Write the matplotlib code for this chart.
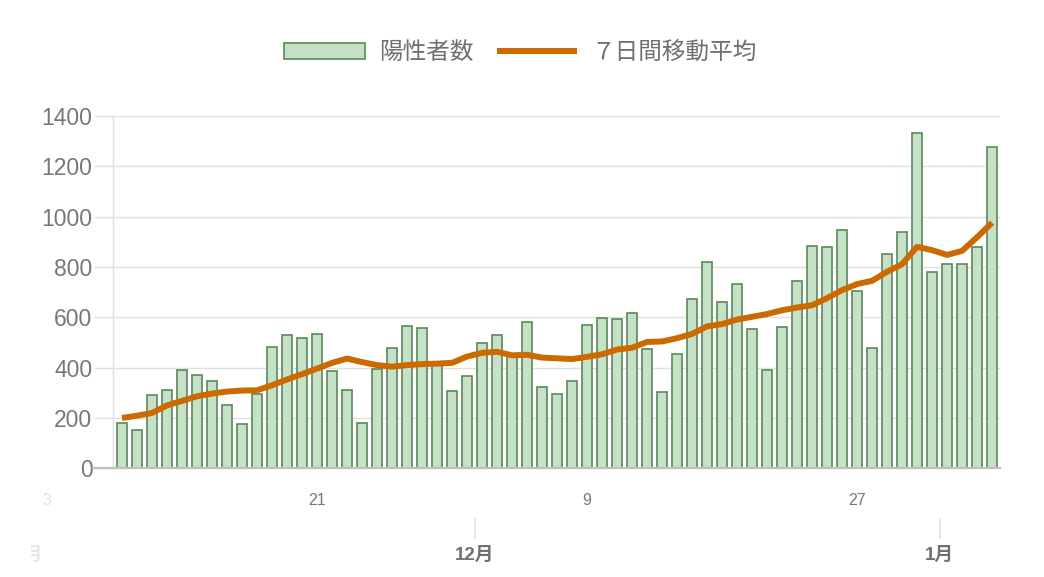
import matplotlib.pyplot as plt
from matplotlib.patches import Rectangle
import matplotlib.transforms as mtrans

plt.rcParams['font.family'] = ['Liberation Sans', 'Noto Sans CJK JP', 'DejaVu Sans']

# daily positives, 2020-11-08 .. 2021-01-05
cases = [182, 152, 290, 312, 389, 369, 348, 251, 176, 294,
         481, 528, 518, 535, 385, 311, 181, 396, 477, 566,
         556, 415, 307, 367, 497, 528, 452, 580, 323, 295,
         348, 570, 598, 592, 616, 476, 302, 454, 674, 818,
         661, 734, 552, 389, 560, 746, 885, 881, 947, 705,
         478, 853, 941, 1332, 780, 811, 813, 881, 1276]

avg7 = [200, 209, 220, 250, 268, 286, 297, 305, 309, 310,
        330, 353, 374, 396, 419, 436, 422, 410, 404, 410,
        414, 416, 419, 444, 459, 463, 449, 451, 440, 437,
        434, 443, 453, 472, 479, 502, 504, 517, 534, 564,
        573, 591, 602, 613, 628, 639, 648, 676, 708, 732,
        745, 781, 811, 880, 867, 848, 864, 918, 976]

legend_labels = ['陽性者数', '７日間移動平均']

# tick labels: (day index, label) relative to first bar (11/8)
day_labels = [(-5, '3'), (13, '21'), (31, '9'), (49, '27')]
month_labels = [(-6.5, '11月'), (23.5, '12月'), (54.5, '1月')]

yticks = [0, 200, 400, 600, 800, 1000, 1200, 1400]

W, H = 1044, 577
fig = plt.figure(figsize=(W / 100, H / 100), dpi=100)
ax = fig.add_axes([113.3 / W, 1 - 468.3 / H, (1000 - 113.3) / W, (468.3 - 116) / H])

x = list(range(len(cases)))
bars = ax.bar(x, cases, width=0.62, color='#c6e2c6', edgecolor='#5a875a',
              linewidth=1.2, zorder=2, label=legend_labels[0])
line, = ax.plot(x, avg7, color='#cc6a00', lw=4.3, solid_capstyle='butt',
                solid_joinstyle='round', zorder=3, label=legend_labels[1])

ax.set_xlim(-0.58, 58.53)
ax.set_ylim(0, 1400)
ax.set_yticks(yticks)
ax.set_yticklabels([str(v) for v in yticks])
ax.tick_params(axis='y', length=14, width=1.0, color='#e0e0e0', pad=1,
               labelsize=16.5, labelcolor='#777777')
ax.set_xticks([])
ax.grid(axis='y', color='#e0e0e0', lw=1.0, zorder=0)
ax.set_axisbelow(True)

for s in ['top', 'right']:
    ax.spines[s].set_visible(False)
ax.spines['left'].set_color('#e0e0e0')
ax.spines['left'].set_linewidth(1.0)
ax.spines['bottom'].set_color('#bfbfbf')
ax.spines['bottom'].set_linewidth(1.6)
# extend baseline to the left like the tick
ax.plot([-0.58 - 20 / 15.0, -0.58], [0, 0], color='#bfbfbf', lw=1.6,
        clip_on=False, zorder=1)

trans = mtrans.blended_transform_factory(ax.transData, ax.transAxes)
for pos, lab in day_labels:
    col = '#e3e3e3' if pos < 0 else '#777777'
    ax.text(pos, -0.091, lab, transform=trans, ha='center', va='center',
            fontsize=11.5, color=col, clip_on=False)
for pos, lab in month_labels:
    col = '#e6e6e6' if pos < 0 else '#707070'
    ax.text(pos, -0.247, lab, transform=trans, ha='center', va='center',
            fontsize=13.5, fontweight='bold', color=col, clip_on=False)
    if pos > 0:
        ax.plot([pos, pos], [-0.145, -0.199], transform=trans,
                color='#e0e0e0', lw=1.2, clip_on=False)

# left edge fade-out
fig.add_artist(Rectangle((0, 0), 31 / W, 1, transform=fig.transFigure,
                         facecolor='white', edgecolor='none', zorder=10))

fig.legend(handles=[bars, line], labels=legend_labels, loc='center',
           bbox_to_anchor=(0.4986, 0.908), ncol=2, frameon=False,
           fontsize=17, labelcolor='#707070', handlelength=3.4,
           handleheight=0.64, handletextpad=0.6, columnspacing=1.0)

fig.savefig('out.png', dpi=100)
